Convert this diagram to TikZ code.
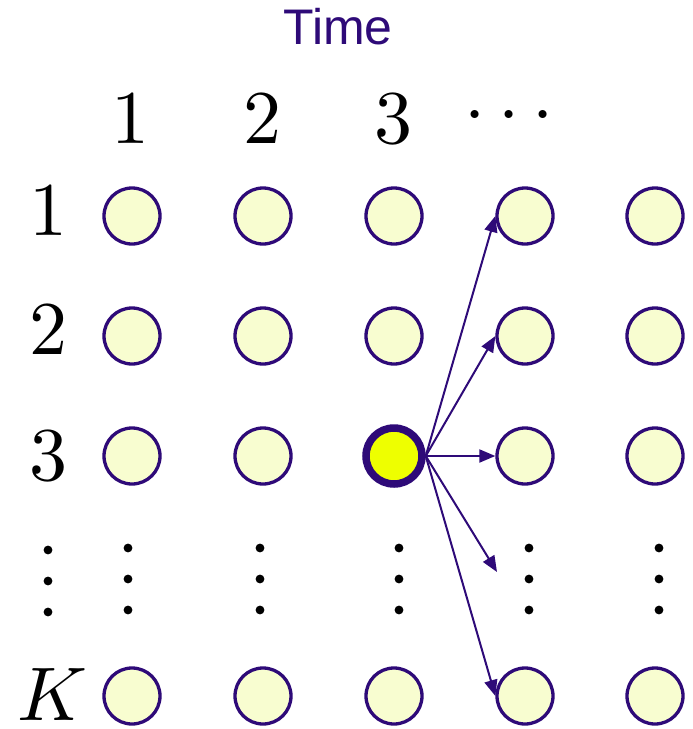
\documentclass[tikz,border=0pt]{standalone}
\usepackage{fontspec}
\newfontfamily\timefont{Liberation Sans}
\usetikzlibrary{arrows.meta}
\usepackage{xcolor}
\definecolor{indigo}{RGB}{46,10,120}
\definecolor{paleyel}{RGB}{248,253,208}
\definecolor{brightyel}{RGB}{238,255,0}

\begin{document}
\begin{tikzpicture}[
  x=.5pt,y=-.5pt,
  slot/.style={circle,draw=indigo,fill=paleyel,line width=1.65pt,
    minimum size=28pt,inner sep=0pt},
  cur/.style={slot,fill=brightyel,line width=3.75pt},
  lbl/.style={scale=3.8,inner sep=0pt},
  hop/.style={draw=indigo,line width=1pt,-{Triangle[length=8pt,width=6.5pt]}}
]
  \useasboundingbox (0,0) rectangle (692,729);
  \node[font=\timefont\fontsize{25}{28}\selectfont,text=indigo] (time) at (338,27) {Time};
  % column and row labels
  \node[lbl] (t1) at (130,119) {\(1\)};
  \node[lbl] (t2) at (262,119) {\(2\)};
  \node[lbl] (t3) at (393,119) {\(3\)};
  \node[lbl] (tdots) at (509,117) {\(\cdots\)};
  \node[lbl] (k1) at (48,211) {\(1\)};
  \node[lbl] (k2) at (48,330) {\(2\)};
  \node[lbl] (k3) at (48,456) {\(3\)};
  \node[lbl] (kK) at (52,695) {\(K\)};
  % grid of states
  \node[slot] (n11) at (132,216) {}; \node[slot] (n12) at (263,216) {};
  \node[slot] (n13) at (394,216) {}; \node[slot] (n14) at (525,216) {};
  \node[slot] (n15) at (655,216) {};
  \node[slot] (n21) at (132,336) {}; \node[slot] (n22) at (263,336) {};
  \node[slot] (n23) at (394,336) {}; \node[slot] (n24) at (525,336) {};
  \node[slot] (n25) at (655,336) {};
  \node[slot] (n31) at (132,456) {}; \node[slot] (n32) at (263,456) {};
  \node[cur]  (n33) at (394,456) {}; \node[slot] (n34) at (525,456) {};
  \node[slot] (n35) at (655,456) {};
  \node[slot] (nK1) at (132,696) {}; \node[slot] (nK2) at (263,696) {};
  \node[slot] (nK3) at (394,696) {}; \node[slot] (nK4) at (525,696) {};
  \node[slot] (nK5) at (655,696) {};
  % vertical dots
  \fill (48,550) circle[radius=2.2pt] (48,581) circle[radius=2.2pt] (48,612) circle[radius=2.2pt];
  \fill (128,548) circle[radius=2.2pt] (128,579) circle[radius=2.2pt] (128,610) circle[radius=2.2pt];
  \fill (260,548) circle[radius=2.2pt] (260,579) circle[radius=2.2pt] (260,610) circle[radius=2.2pt];
  \fill (399,548) circle[radius=2.2pt] (399,579) circle[radius=2.2pt] (399,610) circle[radius=2.2pt];
  \fill (529,548) circle[radius=2.2pt] (529,579) circle[radius=2.2pt] (529,610) circle[radius=2.2pt];
  \fill (659,548) circle[radius=2.2pt] (659,579) circle[radius=2.2pt] (659,610) circle[radius=2.2pt];
  % transitions
  \coordinate (dtip) at (497,572);
  \draw[hop] (n33.east) -- (n14.west);
  \draw[hop] (n33.east) -- (n24.west);
  \draw[hop] (n33.east) -- (n34.west);
  \draw[hop] (n33.east) -- (dtip);
  \draw[hop] (n33.east) -- (nK4.west);
\end{tikzpicture}
\end{document}
